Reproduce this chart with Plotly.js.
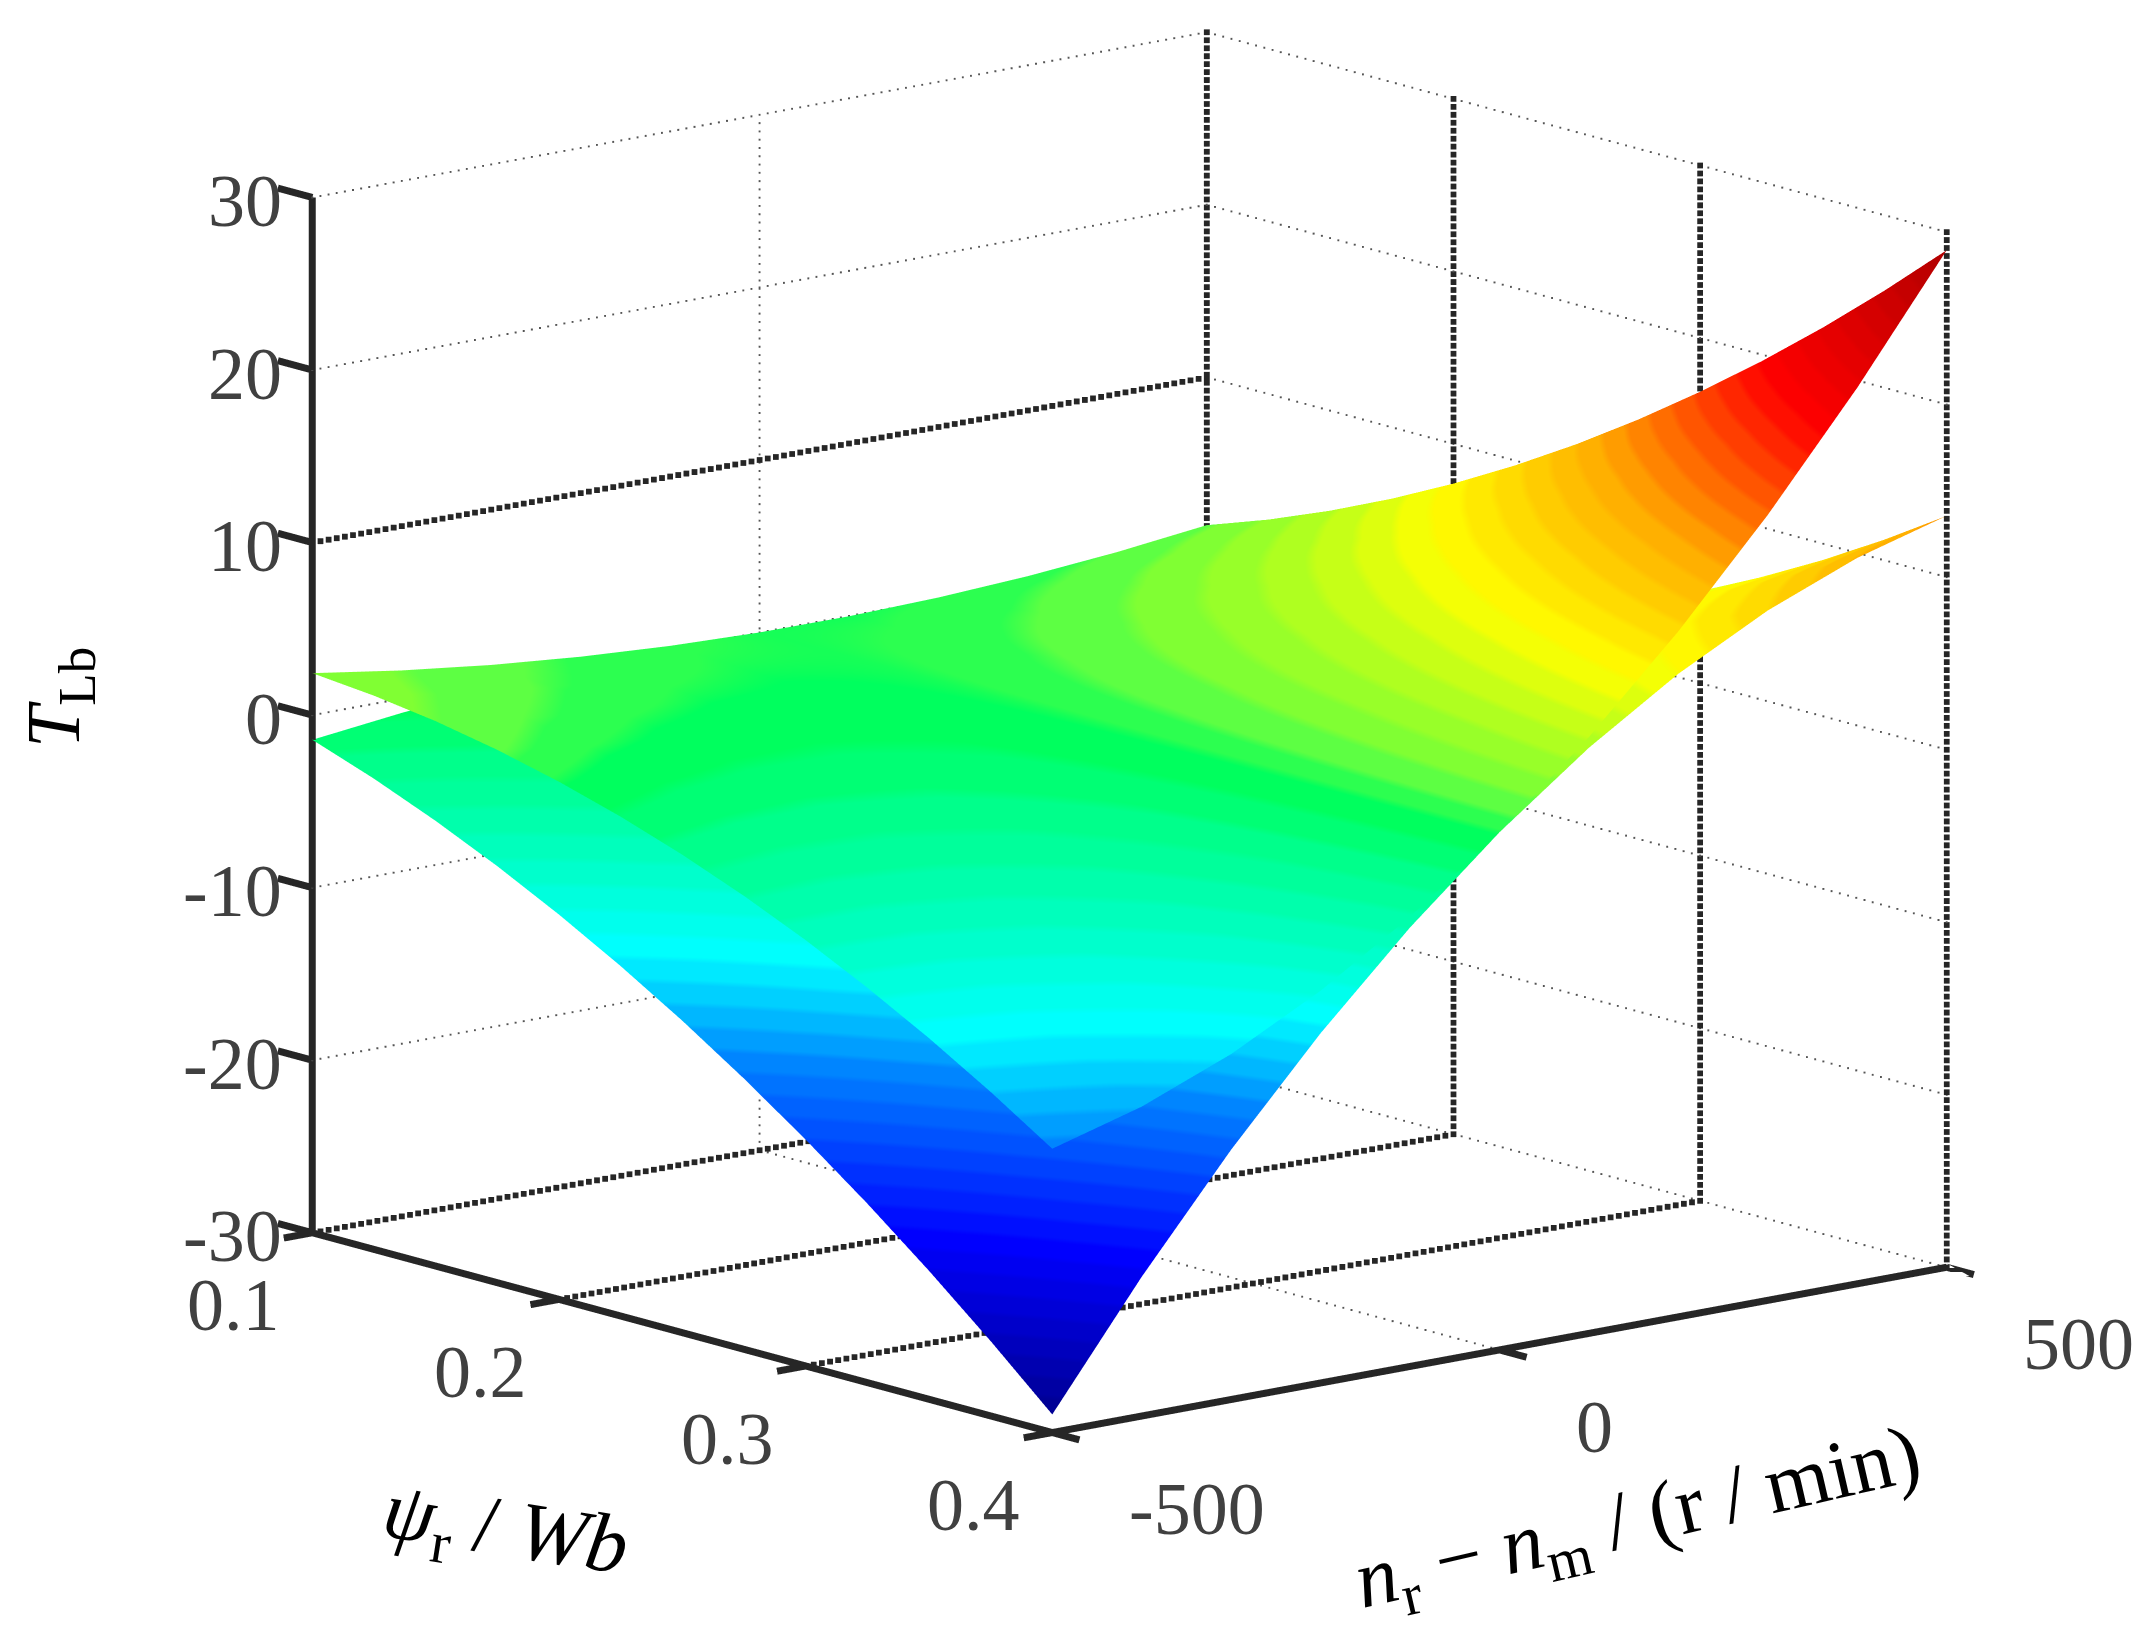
<!DOCTYPE html>
<html><head><meta charset="utf-8">
<script src="https://cdn.plot.ly/plotly-3.0.0.min.js"></script>
<style>html,body{margin:0;padding:0;background:#fff}</style></head>
<body><div id="chart" style="width:2150px;height:1628px"></div>
<script>
const psiValues=[0.100,0.125,0.150,0.175,0.200,0.225,0.250,0.275,0.300,0.325,0.350,0.375,0.400];
const speedValues=[-500,-400,-300,-200,-100,0,100,200,300,400,500];
const upperTorque=[
[2.43,1.63,0.99,0.51,0.18,0,-0.02,0.11,0.39,0.83,1.43],
[2.09,1.29,0.68,0.26,0.03,0,0.16,0.51,1.06,1.79,2.72],
[1.58,0.80,0.25,-0.06,-0.14,0,0.38,0.98,1.83,2.90,4.20],
[0.88,0.16,-0.28,-0.46,-0.36,0,0.63,1.54,2.71,4.15,5.86],
[0,-0.62,-0.92,-0.92,-0.62,0,0.92,2.16,3.70,5.54,7.70],
[-1.06,-1.54,-1.68,-1.46,-0.91,0,1.25,2.85,4.79,7.09,9.72],
[-2.30,-2.61,-2.54,-2.07,-1.23,0,1.61,3.61,6.00,8.77,11.92],
[-3.72,-3.83,-3.50,-2.76,-1.59,0,2.02,4.45,7.32,10.60,14.31],
[-5.32,-5.18,-4.58,-3.52,-1.99,0,2.45,5.36,8.74,12.58,16.88],
[-7.11,-6.69,-5.77,-4.35,-2.42,0,2.92,6.35,10.27,14.70,19.62],
[-9.07,-8.34,-7.06,-5.24,-2.89,0,3.43,7.40,11.92,16.96,22.55],
[-11.22,-10.13,-8.47,-6.22,-3.40,0,3.98,8.53,13.66,19.37,25.66],
[-13.55,-12.07,-9.98,-7.27,-3.94,0,4.56,9.73,15.52,21.93,28.95]];
const lowerTorque=[
[-1.43,-0.83,-0.39,-0.11,0.02,0,-0.18,-0.51,-0.99,-1.63,-2.43],
[-2.72,-1.79,-1.06,-0.51,-0.16,0,-0.03,-0.26,-0.68,-1.29,-2.09],
[-4.20,-2.90,-1.83,-0.98,-0.38,0,0.14,0.06,-0.25,-0.80,-1.58],
[-5.86,-4.15,-2.71,-1.54,-0.63,0,0.36,0.46,0.28,-0.16,-0.88],
[-7.70,-5.54,-3.70,-2.16,-0.92,0,0.62,0.92,0.92,0.62,0],
[-9.72,-7.09,-4.79,-2.85,-1.25,0,0.91,1.46,1.68,1.54,1.06],
[-11.92,-8.77,-6.00,-3.61,-1.61,0,1.23,2.07,2.54,2.61,2.30],
[-14.31,-10.60,-7.32,-4.45,-2.02,0,1.59,2.76,3.50,3.83,3.72],
[-16.88,-12.58,-8.74,-5.36,-2.45,0,1.99,3.52,4.58,5.18,5.32],
[-19.62,-14.70,-10.27,-6.35,-2.92,0,2.42,4.35,5.77,6.69,7.11],
[-22.55,-16.96,-11.92,-7.40,-3.43,0,2.89,5.24,7.06,8.34,9.07],
[-25.66,-19.37,-13.66,-8.53,-3.98,0,3.40,6.22,8.47,10.13,11.22],
[-28.95,-21.93,-15.52,-9.73,-4.56,0,3.94,7.27,9.98,12.07,13.55]];
const psiTicks=[0.1,0.2,0.3,0.4];
const speedTicks=[-500,0,500];
const torqueTicks=[-30,-20,-10,0,10,20,30];

const colorStops=[[0,[0,0,130]],[0.15,[0,0,255]],[0.27,[0,128,255]],[0.35,[0,255,255]],[0.46,[0,255,140]],[0.495,[0,255,90]],[0.52,[85,255,70]],[0.54,[130,255,50]],[0.625,[255,255,0]],[0.717,[255,170,0]],[0.83,[255,0,0]],[1,[170,0,0]]];
const levels=64;
const sample=t=>{let i=0;while(i<colorStops.length-2&&t>colorStops[i+1][0])i++;const [a,c]=colorStops[i],[b,d]=colorStops[i+1],f=(t-a)/(b-a);
  return 'rgb('+c.map((v,k)=>Math.round(v+(d[k]-v)*f)).join(',')+')';};
const steppedScale=[];for(let i=0;i<levels;i++){const col=sample((i+0.5)/levels);steppedScale.push([i/levels,col],[(i+1)/levels,col]);}
const flip=m=>m[0].map((_,j)=>m.map(r=>r[j]));
const surf=z=>({type:'surface',x:psiValues,y:speedValues,z:flip(z),cmin:-30,cmax:30,colorscale:steppedScale,showscale:false,
  lighting:{ambient:1,diffuse:0,specular:0,fresnel:0,roughness:1},hoverinfo:'skip',contours:{x:{show:false},y:{show:false},z:{show:false}}});

const pMin=psiTicks[0],pMax=psiTicks[psiTicks.length-1],nMin=speedTicks[0],nMax=speedTicks[speedTicks.length-1],zMin=torqueTicks[0],zMax=torqueTicks[torqueTicks.length-1];
const dotted=()=>({x:[],y:[],z:[]});
const addDots=(g,a,b,count)=>{for(let i=0;i<=count;i++){const f=i/count;g.x.push(a[0]+(b[0]-a[0])*f);g.y.push(a[1]+(b[1]-a[1])*f);g.z.push(a[2]+(b[2]-a[2])*f);}};
const fine=dotted(),heavy=dotted();
torqueTicks.forEach(t=>{
  addDots((t===10||t===-30)?heavy:fine,[pMin,nMin,t],[pMin,nMax,t],110);
  addDots(fine,[pMin,nMax,t],[pMax,nMax,t],90);
});
addDots(fine,[pMin,0,zMin],[pMin,0,zMax],125);
addDots(heavy,[pMin,nMax,zMin],[pMin,nMax,zMax],130);
psiTicks.slice(1).forEach(p=>{addDots(heavy,[p,nMax,zMin],[p,nMax,zMax],130);addDots(heavy,[p,nMin,zMin],[p,nMax,zMin],110);});
addDots(fine,[pMin,0,zMin],[pMax,0,zMin],90);
const dots=(g,s,c)=>({type:'scatter3d',mode:'markers',x:g.x,y:g.y,z:g.z,marker:{color:c,size:s,symbol:'square',line:{width:0}},hoverinfo:'skip',showlegend:false});

const zTick=0.014,pTick=32,nTickPsi=0.011;
const ax={x:[],y:[],z:[]};
const seg=(a,b)=>{ax.x.push(a[0],b[0],null);ax.y.push(a[1],b[1],null);ax.z.push(a[2],b[2],null);};
seg([pMin,nMin,zMin],[pMin,nMin,zMax]);seg([pMin,nMin,zMin],[pMax,nMin,zMin]);seg([pMax,nMin,zMin],[pMax,nMax,zMin]);
torqueTicks.forEach(t=>seg([pMin,nMin,t],[pMin-zTick,nMin,t]));
psiTicks.forEach(p=>seg([p,nMin,zMin],[p,nMin-pTick,zMin]));
speedTicks.forEach(s=>seg([pMax,s,zMin],[pMax+nTickPsi,s,zMin]));
const axes={type:'scatter3d',mode:'lines',x:ax.x,y:ax.y,z:ax.z,line:{color:'#262626',width:14},hoverinfo:'skip',showlegend:false};

const tickFont={family:'Liberation Serif, serif',size:74,color:'#404040'};
const lab=v=>v<0?'-'+Math.abs(v):String(v);
const tickNotes=[
 ...torqueTicks.map(t=>({x:pMin,y:nMin,z:t,text:lab(t),showarrow:false,xanchor:'right',yanchor:'middle',xshift:-28,yshift:-4,font:tickFont})),
 ...psiTicks.map(p=>({x:p,y:nMin,z:zMin,text:p.toFixed(1),showarrow:false,xanchor:'center',yanchor:'middle',xshift:-78,yshift:-73,font:tickFont})),
 ...speedTicks.map(s=>({x:pMax,y:s,z:zMin,text:lab(s),showarrow:false,xanchor:'left',yanchor:'middle',xshift:75,yshift:-77,font:tickFont}))
];
const axisCfg=range=>({range:range,title:{text:''},showgrid:false,zeroline:false,showbackground:false,showline:false,ticks:'',showticklabels:false,showspikes:false});
const e=12.9*Math.PI/180, d=1.75, k=1.588;
const titleFont=s=>({family:'Liberation Serif, serif',size:s,color:'#000'});
const note=(x,y,text,angle,size)=>({xref:'paper',yref:'paper',x:x/2150,y:1-y/1628,xanchor:'center',yanchor:'middle',text:text,showarrow:false,textangle:angle,font:titleFont(size)});
const layout={width:2150,height:1628,margin:{l:0,r:0,t:0,b:0},paper_bgcolor:'#fff',showlegend:false,hovermode:false,
 scene:{domain:{x:[0.0417,0.9917],y:[0.1003,0.9983]},aspectmode:'manual',aspectratio:{x:1.09*k,y:1.032*k,z:0.915*k},
  xaxis:axisCfg([pMin-0.015,pMax+0.012]),yaxis:axisCfg([nMin-32,nMax]),zaxis:axisCfg([zMin,zMax]),annotations:tickNotes,
  camera:{projection:{type:'orthographic'},up:{x:0,y:0,z:1},center:{x:0,y:0,z:0},
   eye:{x:d*Math.cos(e)*0.77,y:-d*Math.cos(e)*0.637,z:d*Math.sin(e)}}},
 annotations:[
  note(59,698,'<i>T</i><sub>Lb</sub>',-90,76),
  note(505,1533,'<i>ψ</i><sub>r</sub> / <i>Wb</i>',9,83),
  note(1638,1522,'<i>n</i><sub>r</sub> − <i>n</i><sub>m</sub> / (r / min)',-13,83)
 ]};
Plotly.newPlot('chart',[dots(fine,1,'#555555'),dots(heavy,3,'#262626'),axes,surf(lowerTorque),surf(upperTorque)],layout,{displayModeBar:false});
</script></body></html>
